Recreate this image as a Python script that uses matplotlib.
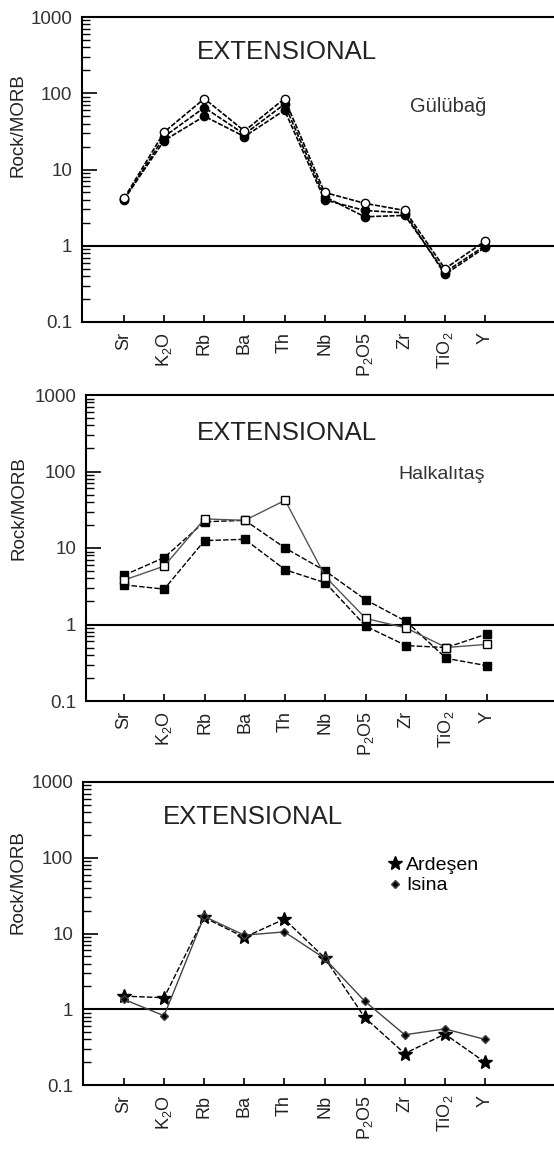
import numpy as np
import matplotlib
matplotlib.use("Agg")
import matplotlib.pyplot as plt

plt.rcParams['font.family'] = ['Liberation Sans', 'DejaVu Sans']
plt.rcParams['mathtext.default'] = 'regular'

elementos = ['Sr', 'K$_2$O', 'Rb', 'Ba', 'Th', 'Nb', 'P$_2$O5', 'Zr', 'TiO$_2$', 'Y']

# Gulubag (3 muestras)
gul_a = [4.2, 31, 85, 32, 85, 5.0, 3.6, 2.9, 0.50, 1.15]
gul_b = [4.0, 27, 65, 29, 72, 4.4, 2.4, 2.5, 0.45, 1.00]
gul_c = [4.1, 24, 50, 27, 60, 4.0, 2.9, 2.7, 0.42, 0.95]

# Halkalitas (3 muestras)
hal_a = [4.4, 7.5, 22, 23, 10, 5.0, 2.1, 1.1, 0.36, 0.29]
hal_b = [3.8, 5.8, 24, 23, 42, 4.2, 1.2, 0.9, 0.50, 0.55]
hal_c = [3.3, 2.9, 12.5, 13, 5.2, 3.5, 0.95, 0.53, 0.50, 0.75]

# Ardesen / Isina
ardesen = [1.49, 1.42, 16.3, 8.9, 15.5, 4.8, 0.78, 0.26, 0.47, 0.20]
isina = [1.35, 0.82, 16.8, 9.5, 10.5, 4.7, 1.28, 0.46, 0.55, 0.40]

W, H = 554, 1154
fig = plt.figure(figsize=(W / 100, H / 100), dpi=100)

def crear_panel(izq, arriba, abajo, xmin, xmax):
    ax = fig.add_axes([izq / W, 1 - abajo / H, (W - izq) / W, (abajo - arriba) / H])
    ax.set_yscale('log')
    ax.set_ylim(0.1, 1000)
    ax.set_xlim(xmin, xmax)
    ax.spines['right'].set_visible(False)
    for s in ['left', 'bottom', 'top']:
        ax.spines[s].set_linewidth(1.5)
    ax.axhline(1, color='black', lw=1.5, zorder=1)
    ax.set_yticks([0.1, 1, 10, 100, 1000])
    ax.set_yticklabels(['0.1', '1', '10', '100', '1000'])
    ax.tick_params(axis='y', which='major', direction='in', length=11, width=1.2,
                   labelsize=13.5, pad=7, labelcolor='#333')
    ax.tick_params(axis='y', which='minor', direction='in', length=6, width=1.0)
    ax.set_xticks(np.arange(len(elementos)))
    ax.set_xticklabels(elementos, rotation=90)
    ax.tick_params(axis='x', direction='in', length=5, width=1.2, labelsize=13,
                   pad=7, labelcolor='#222')
    ax.set_ylabel('Rock/MORB', fontsize=13.5, color='#222')
    return ax

x = np.arange(len(elementos))

# Panel 1
ax1 = crear_panel(82, 17, 322, -1.05, 10.72)
ax1.yaxis.set_label_coords(-0.117, 0.646)
ax1.plot(x, gul_c, ls=(0, (3, 1)), color='black', lw=1.2, marker='o', ms=6, mfc='black')
ax1.plot(x, gul_b, ls=(0, (3, 1)), color='black', lw=1.2, marker='o', ms=6, mfc='black')
ax1.plot(x, gul_a, ls=(0, (3, 1)), color='black', lw=1.2, marker='o', ms=6, mfc='white')
ax1.text(0.434, 0.885, 'EXTENSIONAL', transform=ax1.transAxes, ha='center', va='center',
         fontsize=18.5, color='#222')
ax1.text(0.775, 0.705, 'Gülübağ', transform=ax1.transAxes, ha='center', va='center',
         fontsize=14.5, color='#333')

# Panel 2
ax2 = crear_panel(86, 395, 701, -0.94, 10.67)
ax2.yaxis.set_label_coords(-0.125, 0.63)
ax2.plot(x, hal_c, ls=(0, (4, 1.5)), color='black', lw=1.0, marker='s', ms=6, mfc='black')
ax2.plot(x, hal_a, ls=(0, (4, 1.5)), color='black', lw=1.0, marker='s', ms=6, mfc='black')
ax2.plot(x, hal_b, ls='-', color='#555', lw=1.0, marker='s', ms=6, mfc='white', mec='black')
ax2.text(0.43, 0.876, 'EXTENSIONAL', transform=ax2.transAxes, ha='center', va='center',
         fontsize=18.5, color='#222')
ax2.text(0.76, 0.739, 'Halkalıtaş', transform=ax2.transAxes, ha='center', va='center',
         fontsize=14, color='#333')

# Panel 3
ax3 = crear_panel(83, 782, 1085, -1.02, 10.72)
ax3.yaxis.set_label_coords(-0.119, 0.67)
ax3.plot(x, ardesen, ls=(0, (4, 1.5)), color='black', lw=1.0, marker='*', ms=10,
         mfc='black', label='Ardeşen')
ax3.plot(x, isina, ls='-', color='#444', lw=1.0, marker='D', ms=4, mfc='black',
         label='Isina')
ax3.text(0.361, 0.885, 'EXTENSIONAL', transform=ax3.transAxes, ha='center', va='center',
         fontsize=18.5, color='#222')
leg = ax3.legend(loc='upper left', bbox_to_anchor=(0.645, 0.755), frameon=False,
                 fontsize=14, handlelength=0.8, handletextpad=0.2, labelspacing=0.15,
                 borderpad=0, borderaxespad=0)
for h in leg.get_lines():
    h.set_linestyle('none')

fig.savefig('out.png', dpi=100)
